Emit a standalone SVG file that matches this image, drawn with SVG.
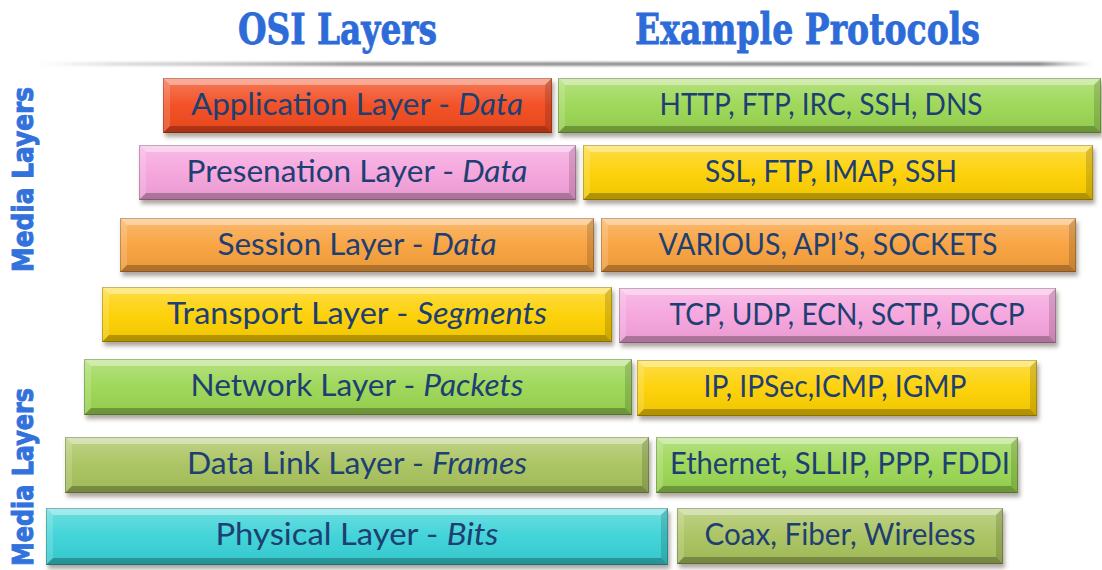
<svg xmlns="http://www.w3.org/2000/svg" width="1102" height="570" viewBox="0 0 1102 570">
  <style>
    .title{font-family:"DejaVu Serif","Liberation Serif",serif;font-weight:bold;font-size:42px;fill:#2c6bd8;stroke:#2c6bd8;stroke-width:0.8}
    .side{font-family:"DejaVu Sans","Liberation Sans",sans-serif;font-weight:bold;font-size:28px;fill:#3172dc;stroke:#3172dc;stroke-width:1}
    .lbl{font-family:Lato,"Open Sans",sans-serif;font-size:30px;fill:#1e3f72;text-anchor:middle}
    .lbl tspan{font-style:italic}
    .face{filter:url(#shadow)}
    .sheen{fill:url(#sheen)}
    .edge{fill:none;stroke:#000;stroke-opacity:.22;stroke-width:1}
    .bt{fill:#fff;fill-opacity:.38}
    .bl{fill:#fff;fill-opacity:.16}
    .br{fill:#000;fill-opacity:.14}
    .bb{fill:#000;fill-opacity:.26}
    .red{fill:#f2491c}
    .pink{fill:#f5a3dc}
    .orange{fill:#f8a03b}
    .yellow{fill:#fdd000}
    .green{fill:#9ad651}
    .olive{fill:#a8c25c}
    .cyan{fill:#38d2d6}
  </style>
  <defs>
    <filter id="shadow" x="-5%" y="-20%" width="110%" height="160%">
      <feDropShadow dx="2" dy="4" stdDeviation="2.2" flood-color="#4a3a2a" flood-opacity="0.45"/>
    </filter>
    <linearGradient id="sheen" x1="0" y1="0" x2="0" y2="1">
      <stop offset="0" stop-color="#fff" stop-opacity="0.28"/>
      <stop offset="0.5" stop-color="#fff" stop-opacity="0.05"/>
      <stop offset="1" stop-color="#000" stop-opacity="0.06"/>
    </linearGradient>
    <linearGradient id="shelf" x1="0" y1="0" x2="1" y2="0">
      <stop offset="0" stop-color="#bbb" stop-opacity="0"/>
      <stop offset="0.08" stop-color="#bbb" stop-opacity="0.5"/>
      <stop offset="0.3" stop-color="#999"/>
      <stop offset="0.95" stop-color="#8a8a8a"/>
      <stop offset="1" stop-color="#999" stop-opacity="0"/>
    </linearGradient>
    <filter id="soft" x="-2%" y="-200%" width="104%" height="500%">
      <feGaussianBlur stdDeviation="1.2"/>
    </filter>
  </defs>

  <!-- headings -->
  <g id="headings">
    <text class="title" x="238" y="44" textLength="199" lengthAdjust="spacingAndGlyphs">OSI Layers</text>
    <text class="title" x="635" y="44" textLength="345" lengthAdjust="spacingAndGlyphs">Example Protocols</text>
    <rect x="40" y="62" width="1052" height="4" fill="url(#shelf)" filter="url(#soft)"/>
  </g>

  <!-- side captions -->
  <g id="side-captions">
    <text class="side" transform="translate(33,272) rotate(-90)" textLength="185" lengthAdjust="spacingAndGlyphs">Media Layers</text>
    <text class="side" transform="translate(33,566) rotate(-90)" textLength="178" lengthAdjust="spacingAndGlyphs">Media Layers</text>
  </g>

  <!-- OSI layers -->
  <g id="application-layer">
    <rect class="face red" x="163" y="78" width="389" height="55"/>
    <rect class="sheen" x="163" y="78" width="389" height="55"/>
    <path class="bt" d="M163 78H552L545 85H170Z"/>
    <path class="bl" d="M163 78L170 85V126L163 133Z"/>
    <path class="br" d="M552 78V133L545 126V85Z"/>
    <path class="bb" d="M163 133L170 126H545L552 133Z"/>
    <rect class="edge" x="163.5" y="78.5" width="388" height="54"/>
    <text class="lbl" x="357" y="115" textLength="332" lengthAdjust="spacingAndGlyphs">Application Layer - <tspan>Data</tspan></text>
  </g>
  <g id="presentation-layer">
    <rect class="face pink" x="139" y="145" width="437" height="55"/>
    <rect class="sheen" x="139" y="145" width="437" height="55"/>
    <path class="bt" d="M139 145H576L569 152H146Z"/>
    <path class="bl" d="M139 145L146 152V193L139 200Z"/>
    <path class="br" d="M576 145V200L569 193V152Z"/>
    <path class="bb" d="M139 200L146 193H569L576 200Z"/>
    <rect class="edge" x="139.5" y="145.5" width="436" height="54"/>
    <text class="lbl" x="357" y="182" textLength="341" lengthAdjust="spacingAndGlyphs">Presenation Layer - <tspan>Data</tspan></text>
  </g>
  <g id="session-layer">
    <rect class="face orange" x="120" y="218" width="474" height="54"/>
    <rect class="sheen" x="120" y="218" width="474" height="54"/>
    <path class="bt" d="M120 218H594L587 225H127Z"/>
    <path class="bl" d="M120 218L127 225V265L120 272Z"/>
    <path class="br" d="M594 218V272L587 265V225Z"/>
    <path class="bb" d="M120 272L127 265H587L594 272Z"/>
    <rect class="edge" x="120.5" y="218.5" width="473" height="53"/>
    <text class="lbl" x="357" y="255" textLength="279" lengthAdjust="spacingAndGlyphs">Session Layer - <tspan>Data</tspan></text>
  </g>
  <g id="transport-layer">
    <rect class="face yellow" x="102" y="287" width="510" height="55"/>
    <rect class="sheen" x="102" y="287" width="510" height="55"/>
    <path class="bt" d="M102 287H612L605 294H109Z"/>
    <path class="bl" d="M102 287L109 294V335L102 342Z"/>
    <path class="br" d="M612 287V342L605 335V294Z"/>
    <path class="bb" d="M102 342L109 335H605L612 342Z"/>
    <rect class="edge" x="102.5" y="287.5" width="509" height="54"/>
    <text class="lbl" x="357" y="324" textLength="380" lengthAdjust="spacingAndGlyphs">Transport Layer - <tspan>Segments</tspan></text>
  </g>
  <g id="network-layer">
    <rect class="face green" x="84" y="359" width="548" height="56"/>
    <rect class="sheen" x="84" y="359" width="548" height="56"/>
    <path class="bt" d="M84 359H632L625 366H91Z"/>
    <path class="bl" d="M84 359L91 366V408L84 415Z"/>
    <path class="br" d="M632 359V415L625 408V366Z"/>
    <path class="bb" d="M84 415L91 408H625L632 415Z"/>
    <rect class="edge" x="84.5" y="359.5" width="547" height="55"/>
    <text class="lbl" x="357" y="396" textLength="333" lengthAdjust="spacingAndGlyphs">Network Layer - <tspan>Packets</tspan></text>
  </g>
  <g id="data-link-layer">
    <rect class="face olive" x="65" y="437" width="584" height="56"/>
    <rect class="sheen" x="65" y="437" width="584" height="56"/>
    <path class="bt" d="M65 437H649L642 444H72Z"/>
    <path class="bl" d="M65 437L72 444V486L65 493Z"/>
    <path class="br" d="M649 437V493L642 486V444Z"/>
    <path class="bb" d="M65 493L72 486H642L649 493Z"/>
    <rect class="edge" x="65.5" y="437.5" width="583" height="55"/>
    <text class="lbl" x="357" y="474" textLength="340" lengthAdjust="spacingAndGlyphs">Data Link Layer - <tspan>Frames</tspan></text>
  </g>
  <g id="physical-layer">
    <rect class="face cyan" x="46" y="508" width="622" height="57"/>
    <rect class="sheen" x="46" y="508" width="622" height="57"/>
    <path class="bt" d="M46 508H668L661 515H53Z"/>
    <path class="bl" d="M46 508L53 515V558L46 565Z"/>
    <path class="br" d="M668 508V565L661 558V515Z"/>
    <path class="bb" d="M46 565L53 558H661L668 565Z"/>
    <rect class="edge" x="46.5" y="508.5" width="621" height="56"/>
    <text class="lbl" x="357" y="545" textLength="283" lengthAdjust="spacingAndGlyphs">Physical Layer - <tspan>Bits</tspan></text>
  </g>

  <!-- protocol examples -->
  <g id="application-protocols">
    <rect class="face green" x="558" y="78" width="543" height="55"/>
    <rect class="sheen" x="558" y="78" width="543" height="55"/>
    <path class="bt" d="M558 78H1101L1094 85H565Z"/>
    <path class="bl" d="M558 78L565 85V126L558 133Z"/>
    <path class="br" d="M1101 78V133L1094 126V85Z"/>
    <path class="bb" d="M558 133L565 126H1094L1101 133Z"/>
    <rect class="edge" x="558.5" y="78.5" width="542" height="54"/>
    <text class="lbl" x="821" y="115" textLength="323" lengthAdjust="spacingAndGlyphs">HTTP, FTP, IRC, SSH, DNS</text>
  </g>
  <g id="presentation-protocols">
    <rect class="face yellow" x="583" y="145" width="510" height="55"/>
    <rect class="sheen" x="583" y="145" width="510" height="55"/>
    <path class="bt" d="M583 145H1093L1086 152H590Z"/>
    <path class="bl" d="M583 145L590 152V193L583 200Z"/>
    <path class="br" d="M1093 145V200L1086 193V152Z"/>
    <path class="bb" d="M583 200L590 193H1086L1093 200Z"/>
    <rect class="edge" x="583.5" y="145.5" width="509" height="54"/>
    <text class="lbl" x="831" y="182" textLength="252" lengthAdjust="spacingAndGlyphs">SSL, FTP, IMAP, SSH</text>
  </g>
  <g id="session-protocols">
    <rect class="face orange" x="601" y="218" width="475" height="54"/>
    <rect class="sheen" x="601" y="218" width="475" height="54"/>
    <path class="bt" d="M601 218H1076L1069 225H608Z"/>
    <path class="bl" d="M601 218L608 225V265L601 272Z"/>
    <path class="br" d="M1076 218V272L1069 265V225Z"/>
    <path class="bb" d="M601 272L608 265H1069L1076 272Z"/>
    <rect class="edge" x="601.5" y="218.5" width="474" height="53"/>
    <text class="lbl" x="828" y="255" textLength="339" lengthAdjust="spacingAndGlyphs">VARIOUS, API’S, SOCKETS</text>
  </g>
  <g id="transport-protocols">
    <rect class="face pink" x="619" y="288" width="437" height="55"/>
    <rect class="sheen" x="619" y="288" width="437" height="55"/>
    <path class="bt" d="M619 288H1056L1049 295H626Z"/>
    <path class="bl" d="M619 288L626 295V336L619 343Z"/>
    <path class="br" d="M1056 288V343L1049 336V295Z"/>
    <path class="bb" d="M619 343L626 336H1049L1056 343Z"/>
    <rect class="edge" x="619.5" y="288.5" width="436" height="54"/>
    <text class="lbl" x="847" y="325" textLength="355" lengthAdjust="spacingAndGlyphs">TCP, UDP, ECN, SCTP, DCCP</text>
  </g>
  <g id="network-protocols">
    <rect class="face yellow" x="637" y="360" width="400" height="56"/>
    <rect class="sheen" x="637" y="360" width="400" height="56"/>
    <path class="bt" d="M637 360H1037L1030 367H644Z"/>
    <path class="bl" d="M637 360L644 367V409L637 416Z"/>
    <path class="br" d="M1037 360V416L1030 409V367Z"/>
    <path class="bb" d="M637 416L644 409H1030L1037 416Z"/>
    <rect class="edge" x="637.5" y="360.5" width="399" height="55"/>
    <text class="lbl" x="835" y="397" textLength="263" lengthAdjust="spacingAndGlyphs">IP, IPSec,ICMP, IGMP</text>
  </g>
  <g id="data-link-protocols">
    <rect class="face green" x="656" y="437" width="362" height="56"/>
    <rect class="sheen" x="656" y="437" width="362" height="56"/>
    <path class="bt" d="M656 437H1018L1011 444H663Z"/>
    <path class="bl" d="M656 437L663 444V486L656 493Z"/>
    <path class="br" d="M1018 437V493L1011 486V444Z"/>
    <path class="bb" d="M656 493L663 486H1011L1018 493Z"/>
    <rect class="edge" x="656.5" y="437.5" width="361" height="55"/>
    <text class="lbl" x="840" y="474" textLength="340" lengthAdjust="spacingAndGlyphs">Ethernet, SLLIP, PPP, FDDI</text>
  </g>
  <g id="physical-protocols">
    <rect class="face olive" x="677" y="508" width="326" height="56"/>
    <rect class="sheen" x="677" y="508" width="326" height="56"/>
    <path class="bt" d="M677 508H1003L996 515H684Z"/>
    <path class="bl" d="M677 508L684 515V557L677 564Z"/>
    <path class="br" d="M1003 508V564L996 557V515Z"/>
    <path class="bb" d="M677 564L684 557H996L1003 564Z"/>
    <rect class="edge" x="677.5" y="508.5" width="325" height="55"/>
    <text class="lbl" x="840" y="545" textLength="271" lengthAdjust="spacingAndGlyphs">Coax, Fiber, Wireless</text>
  </g>
</svg>
